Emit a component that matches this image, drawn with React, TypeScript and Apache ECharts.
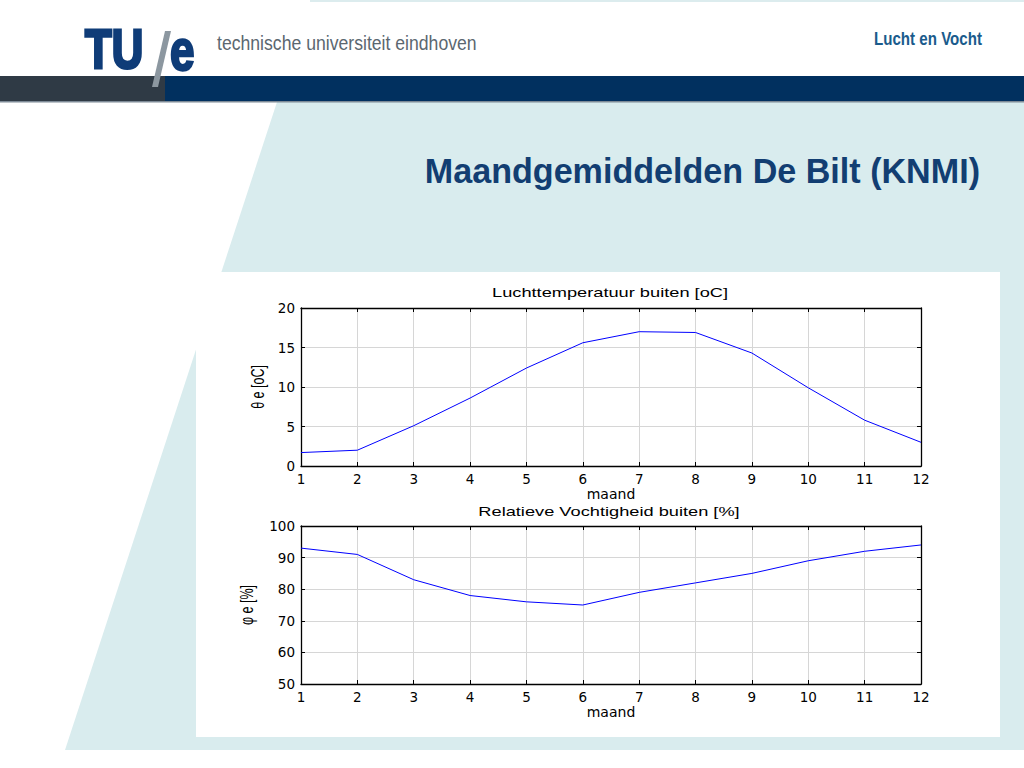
import React, { useEffect, useRef } from "react";
import * as echarts from "echarts";

const months = [1, 2, 3, 4, 5, 6, 7, 8, 9, 10, 11, 12];
const temperature = [1.7, 2.0, 5.1, 8.6, 12.4, 15.6, 17.0, 16.9, 14.3, 9.9, 5.8, 3.0];
const humidity = [93, 91, 83, 78, 76, 75, 79, 82, 85, 89, 92, 94];
const tempRange = { min: 0, max: 20, interval: 5 };
const humRange = { min: 50, max: 100, interval: 10 };

const slideTitle = "Maandgemiddelden De Bilt (KNMI)";
const topRight = "Lucht en Vocht";
const uniName = "technische universiteit eindhoven";
const tempTitle = "Luchttemperatuur buiten [oC]";
const humTitle = "Relatieve Vochtigheid buiten [%]";
const xName = "maand";
const tempYName = "θ e [oC]";
const humYName = "φ e [%]";

const TICK_FONT = "DejaVu Sans";

function bottomX(gridIndex: number) {
  return {
    type: "value",
    gridIndex,
    min: 1,
    max: 12,
    interval: 1,
    position: "bottom",
    z: 5,
    axisLine: { onZero: false, lineStyle: { color: "#000", width: 1.3 } },
    axisTick: { inside: true, length: 4, lineStyle: { color: "#000" } },
    axisLabel: { color: "#000", fontFamily: TICK_FONT, fontSize: 13.5, margin: 6 },
    splitLine: { show: true, lineStyle: { color: "#d6d6d6", width: 1 } },
    name: xName,
    nameLocation: "middle",
    nameGap: 20,
    nameTextStyle: { color: "#000", fontFamily: TICK_FONT, fontSize: 14 },
  };
}
function topX(gridIndex: number) {
  return {
    type: "value",
    gridIndex,
    min: 1,
    max: 12,
    interval: 1,
    position: "top",
    z: 5,
    axisLine: { onZero: false, lineStyle: { color: "#000", width: 1.3 } },
    axisTick: { inside: true, length: 4, lineStyle: { color: "#000" } },
    axisLabel: { show: false },
    splitLine: { show: false },
  };
}
function leftY(gridIndex: number, r: any) {
  return {
    type: "value",
    gridIndex,
    min: r.min,
    max: r.max,
    interval: r.interval,
    position: "left",
    z: 5,
    axisLine: { show: true, onZero: false, lineStyle: { color: "#000", width: 1.3 } },
    axisTick: { show: true, inside: true, length: 4, lineStyle: { color: "#000" } },
    axisLabel: { color: "#000", fontFamily: TICK_FONT, fontSize: 13.5, margin: 6 },
    splitLine: { show: true, lineStyle: { color: "#d6d6d6", width: 1 } },
  };
}
function rightY(gridIndex: number, r: any) {
  return {
    type: "value",
    gridIndex,
    min: r.min,
    max: r.max,
    interval: r.interval,
    position: "right",
    z: 5,
    axisLine: { show: true, onZero: false, lineStyle: { color: "#000", width: 1.3 } },
    axisTick: { show: true, inside: true, length: 4, lineStyle: { color: "#000" } },
    axisLabel: { show: false },
    splitLine: { show: false },
  };
}

export default function App() {
  const ref = useRef<HTMLDivElement>(null);
  useEffect(() => {
    if (!ref.current) return;
    const chart = echarts.init(ref.current, undefined, { renderer: "svg" });
    const bg = [
      { type: "rect", z: -10, shape: { x: 0, y: 0, width: 1024, height: 768 }, style: { fill: "#ffffff" } },
      { type: "rect", z: -9, shape: { x: 310, y: 0, width: 714, height: 2 }, style: { fill: "#dcecee" } },
      { type: "polygon", z: -9, shape: { points: [[277, 102], [1024, 102], [1024, 750], [65, 750]] }, style: { fill: "#d9ecee" } },
      { type: "rect", z: -8, shape: { x: 196, y: 272, width: 804, height: 465 }, style: { fill: "#ffffff" } },
      { type: "rect", z: -8, shape: { x: 0, y: 76, width: 165, height: 26 }, style: { fill: "#2f3a45" } },
      { type: "rect", z: -8, shape: { x: 165, y: 76, width: 859, height: 26 }, style: { fill: "#01305f" } },
      { type: "rect", z: -7, shape: { x: 0, y: 101, width: 1024, height: 1.5 }, style: { fill: "#7d8a96" } },
      { type: "text", z: -6, x: 85, y: 77, scaleX: 0.78, style: { text: "TU", fill: "#0f3c78", stroke: "#0f3c78", lineWidth: 3, fontFamily: "Liberation Sans", fontWeight: "bold", fontSize: 56, align: "left", verticalAlign: "bottom" } },
      { type: "polygon", z: -5, shape: { points: [[165, 31], [171, 31], [158, 87], [152, 87]] }, style: { fill: "#8c97a0" } },
      { type: "text", z: -6, x: 170, y: 79, scaleX: 0.76, style: { text: "e", fill: "#0f3c78", stroke: "#0f3c78", lineWidth: 2.5, fontFamily: "Liberation Sans", fontWeight: "bold", fontSize: 58, align: "left", verticalAlign: "bottom" } },
      { type: "text", z: -6, x: 217, y: 42, scaleX: 0.84, style: { text: uniName, fill: "#5b6770", fontFamily: "Liberation Sans", fontSize: 21, align: "left", verticalAlign: "middle" } },
      { type: "text", z: -6, x: 982, y: 39, scaleX: 0.84, style: { text: topRight, fill: "#1a5b8c", fontFamily: "Liberation Sans", fontWeight: "bold", fontSize: 18, align: "right", verticalAlign: "middle" } },
      { type: "text", z: -6, x: 980, y: 171, scaleX: 0.975, style: { text: slideTitle, fill: "#123e72", fontFamily: "Liberation Sans", fontWeight: "bold", fontSize: 35, align: "right", verticalAlign: "middle" } },
      { type: "text", z: 10, x: 610, y: 293, scaleX: 1.52, style: { text: tempTitle, fill: "#000", fontFamily: "Liberation Sans", fontSize: 12, align: "center", verticalAlign: "middle" } },
      { type: "text", z: 10, x: 609, y: 512, scaleX: 1.52, style: { text: humTitle, fill: "#000", fontFamily: "Liberation Sans", fontSize: 12, align: "center", verticalAlign: "middle" } },
      { type: "text", z: 10, x: 258, y: 387, rotation: Math.PI / 2, scaleY: 1.45, style: { text: tempYName, fill: "#000", fontFamily: "Liberation Sans", fontSize: 12.5, align: "center", verticalAlign: "middle" } },
      { type: "text", z: 10, x: 247, y: 605, rotation: Math.PI / 2, scaleY: 1.45, style: { text: humYName, fill: "#000", fontFamily: "Liberation Sans", fontSize: 12.5, align: "center", verticalAlign: "middle" } },
    ];
    chart.setOption({
      animation: false,
      backgroundColor: "#ffffff",
      graphic: { elements: bg },
      grid: [
        { left: 301, top: 308, width: 620, height: 158, show: false },
        { left: 301, top: 526, width: 620, height: 158, show: false },
      ],
      xAxis: [bottomX(0), topX(0), bottomX(1), topX(1)],
      yAxis: [leftY(0, tempRange), rightY(0, tempRange), leftY(1, humRange), rightY(1, humRange)],
      series: [
        {
          type: "line",
          xAxisIndex: 0,
          yAxisIndex: 0,
          data: months.map((m, i) => [m, temperature[i]]),
          symbol: "none",
          silent: true,
          z: 6,
          lineStyle: { color: "#0000ff", width: 1 },
        },
        {
          type: "line",
          xAxisIndex: 2,
          yAxisIndex: 2,
          data: months.map((m, i) => [m, humidity[i]]),
          symbol: "none",
          silent: true,
          z: 6,
          lineStyle: { color: "#0000ff", width: 1 },
        },
      ],
    });
    return () => chart.dispose();
  }, []);
  return <div ref={ref} style={{ position: "absolute", left: 0, top: 0, width: 1024, height: 768 }} />;
}
